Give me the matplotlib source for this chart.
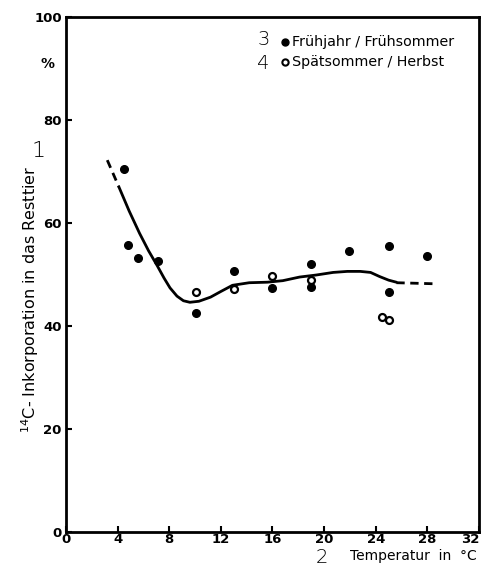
import matplotlib
matplotlib.use("Agg")
import matplotlib.pyplot as plt

# --- data ---
spring_x = [4.5, 4.8, 5.6, 7.1, 10.1, 13.0, 16.0, 19.0, 19.0, 21.9, 25.0, 25.0, 28.0]
spring_y = [70.5, 55.7, 53.2, 52.6, 42.5, 50.7, 47.4, 52.0, 47.6, 54.6, 55.5, 46.6, 53.6]

autumn_x = [10.1, 13.0, 16.0, 19.0, 24.5, 25.0]
autumn_y = [46.6, 47.2, 49.7, 48.9, 41.7, 41.2]

curve_x = [4.1, 4.9, 5.7, 6.4, 7.05, 7.6, 8.06, 8.6, 9.1, 9.6, 10.3, 11.2, 12.0, 12.9,
           14.2, 15.6, 16.8, 18.1, 19.4, 20.7, 21.8, 22.8, 23.6, 24.3, 25.0, 25.6]
curve_y = [67.0, 62.3, 58.0, 54.6, 51.8, 49.3, 47.4, 45.8, 44.9, 44.6, 44.8, 45.6, 46.7, 47.9,
           48.4, 48.5, 48.8, 49.5, 49.9, 50.4, 50.6, 50.6, 50.4, 49.6, 48.9, 48.5]

dash_left_x = [3.2, 4.1]
dash_left_y = [72.2, 67.0]
dash_right_x = [25.6, 28.5]
dash_right_y = [48.4, 48.2]

x_ticks = [0, 4, 8, 12, 16, 20, 24, 28, 32]
y_ticks = [0, 20, 40, 60, 80, 100]

TICKFONT = dict(family="DejaVu Sans", weight="bold")
TEXTFONT = dict(family="DejaVu Sans", weight="normal")

fig = plt.figure(figsize=(4.87, 5.70), dpi=100)
ax = fig.add_axes([0.1355, 0.0667, 0.848, 0.9035])

ax.plot(curve_x, curve_y, color="black", lw=2.0, solid_capstyle="round")
ax.plot(dash_left_x, dash_left_y, color="black", lw=2.0, dashes=(3, 2))
ax.plot(dash_right_x, dash_right_y, color="black", lw=2.0, dashes=(3, 2))

ax.plot(spring_x, spring_y, "o", color="black", ms=5.5, ls="none")
ax.plot(autumn_x, autumn_y, "o", mfc="white", mec="black", mew=1.6, ms=5, ls="none")

ax.set_xlim(0, 32)
ax.set_ylim(0, 100)
ax.set_xticks(x_ticks)
ax.set_yticks(y_ticks)
ax.set_xticklabels([str(t) for t in x_ticks], fontsize=9.5, **TICKFONT)
ax.set_yticklabels([str(t) for t in y_ticks], fontsize=9.5, **TICKFONT)
ax.tick_params(direction="in", length=4, width=1.5)
ax.tick_params(axis="x", pad=0.5)
ax.tick_params(axis="y", pad=3)
# last x tick label sits just inside the figure edge, as in the reference
xlabels = ax.get_xticklabels()
xlabels[-1].set_horizontalalignment("right")
xlabels[-1].set_x(32)
for s in ax.spines.values():
    s.set_linewidth(2.0)

# legend (as drawn in the figure)
ax.plot([17.0], [95.2], "o", color="black", ms=5, clip_on=False)
ax.plot([17.0], [91.3], "o", mfc="white", mec="black", mew=1.5, ms=4.5, clip_on=False)
ax.text(17.5, 95.2, "Frühjahr / Frühsommer", fontsize=10.3, va="center", ha="left", **TEXTFONT)
ax.text(17.5, 91.3, "Spätsommer / Herbst", fontsize=10.3, va="center", ha="left", **TEXTFONT)
ax.text(15.3, 95.6, "3", fontsize=14, va="center", ha="center", family="DejaVu Sans",
        weight="light")
ax.text(15.3, 91.0, "4", fontsize=14, va="center", ha="center", family="DejaVu Sans",
        weight="light")

# axis labels
fig.text(0.062, 0.474, "$^{14}$C- Inkorporation in das Resttier", rotation=90,
         fontsize=11.5, ha="center", va="center", **TEXTFONT)
fig.text(0.097, 0.888, "%", fontsize=10, ha="center", va="center", **TICKFONT)
fig.text(0.080, 0.735, "1", fontsize=16, ha="center", va="center", family="DejaVu Sans",
         weight="light")
fig.text(0.978, 0.024, "Temperatur  in  °C", fontsize=10, ha="right", va="center", **TEXTFONT)
fig.text(0.66, 0.022, "2", fontsize=14, ha="center", va="center", family="DejaVu Sans",
         weight="light")

fig.savefig("out.png", dpi=100)
